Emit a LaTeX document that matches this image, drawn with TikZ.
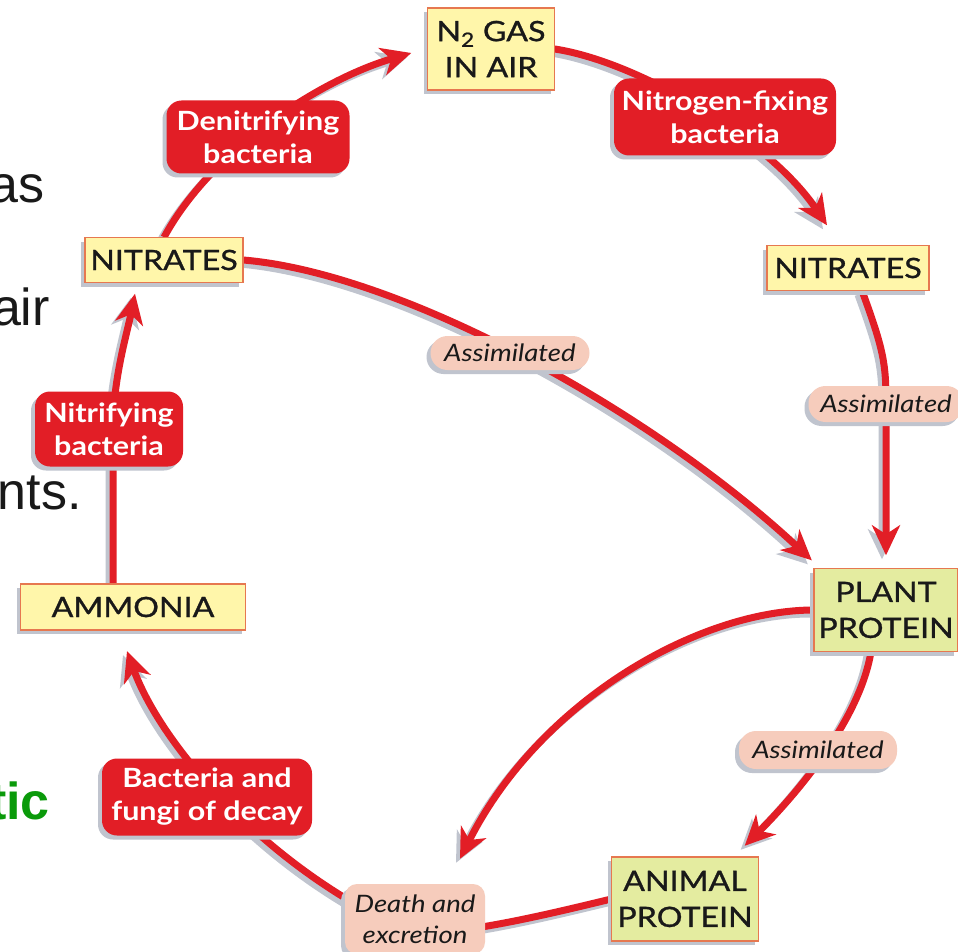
\documentclass[tikz,border=0pt]{standalone}
\usepackage{fontspec}
\setmainfont{Lato}[FakeStretch=1.15]
\newfontfamily\boxfont{Lato}[FakeStretch=1.15, FakeBold=1]
\newfontfamily\slidefont{Liberation Sans}
\usetikzlibrary{arrows.meta,shadows}
\definecolor{myred}{RGB}{226,30,38}
\definecolor{yellowfill}{RGB}{255,246,170}
\definecolor{greenfill}{RGB}{228,236,160}
\definecolor{boxedge}{RGB}{230,120,80}
\definecolor{pinkc}{RGB}{246,204,188}
\definecolor{shadowc}{RGB}{192,196,206}
\definecolor{textc}{RGB}{25,25,25}
\definecolor{slidegreen}{RGB}{10,154,10}
\tikzset{
  shad/.style={drop shadow={shadow xshift=-4pt, shadow yshift=-4pt, fill=shadowc, opacity=1}},
  flow/.style={draw=myred, line width=7pt,
    preaction={draw=shadowc, line width=7pt, transform canvas={xshift=-4pt,yshift=-4pt}}},
  tipped/.style={flow, -{Stealth[length=30pt,width=28pt,inset=9pt]}},
  ybox/.style={shad, draw=boxedge, line width=1.2pt, fill=yellowfill, text=textc,
    font=\boxfont\fontsize{28}{36}\selectfont, align=center, inner sep=0pt},
  gbox/.style={ybox, fill=greenfill},
  rbox/.style={shad, fill=myred, text=white, rounded corners=15pt,
    font=\bfseries\fontsize{26.5}{33}\selectfont, align=center, inner sep=0pt},
  pill/.style={shad, fill=pinkc, text=textc, rounded corners=17pt,
    font=\itshape\fontsize{24}{31}\selectfont, align=center, inner sep=0pt},
  slide/.style={font=\slidefont\fontsize{52}{60}\selectfont, text=textc, inner sep=0pt, anchor=base east}
}
\begin{document}
\begin{tikzpicture}[x=1pt,y=-1pt]
\fill[white] (0,0) rectangle (958,952);
\useasboundingbox (0,0) rectangle (958,952);

% slide text fragments (cut at the left edge, as in the reference)
\node[slide] (t1) at (45,203) {as};
\node[slide] (t2) at (50,325) {air};
\node[slide] (t3) at (82,509) {nts.};
\node[slide, font=\slidefont\bfseries\fontsize{52}{60}\selectfont, text=slidegreen] (t4) at (50,819) {tic};

\path
  (491,49)  coordinate (pn2)
  (258,137) coordinate (pden)
  (164,260) coordinate (pnitL)
  (725,117) coordinate (pnfix)
  (848,268) coordinate (pnitR)
  (510,353) coordinate (passM)
  (886,404) coordinate (passR)
  (109,429) coordinate (pnitrif)
  (886,610) coordinate (pplant)
  (133,607) coordinate (pammonia)
  (818,750) coordinate (passLow)
  (207,797) coordinate (pbact)
  (415,919) coordinate (pdeath)
  (685,899) coordinate (panimal);

% invisible frames for anchors
\begin{scope}[every node/.style={inner sep=0pt}]
\node[minimum width=127pt, minimum height=82pt] (n2) at (pn2) {};
\node[minimum width=158pt, minimum height=45pt] (nitL) at (pnitL) {};
\node[minimum width=162pt, minimum height=45pt] (nitR) at (pnitR) {};
\node[minimum width=144pt, minimum height=83pt] (plant) at (pplant) {};
\node[minimum width=225pt, minimum height=46pt] (ammonia) at (pammonia) {};
\node[minimum width=140pt, minimum height=70pt] (death) at (pdeath) {};
\node[minimum width=147pt, minimum height=84pt] (animal) at (panimal) {};
\node[minimum width=148pt, minimum height=75pt] (nitrif) at (pnitrif) {};
\node[minimum width=155pt, minimum height=36pt] (assR) at (passR) {};
\end{scope}

% connectors
\draw[tipped] (nitL.north) .. controls +(47,-87) and +(-92,27) .. ([xshift=-16pt,yshift=-4pt]n2.west);
\draw[tipped] (n2.east) .. controls +(85,13) and +(-57,-85) .. ([xshift=-21pt,yshift=20pt]nitR.north);
\draw[tipped] (nitL.east) .. controls +(157,13) and +(-162,-151) .. ([xshift=-2pt,yshift=8pt]plant.north west);
\draw[tipped] ([xshift=14pt]nitR.south) .. controls +(22,60) and +(0,-40) .. (plant.north |- assR.center) -- ([yshift=13pt]plant.north);
\draw[tipped] ([xshift=-15pt]plant.south) .. controls +(-11,66) and +(56,-56) .. ([xshift=-14pt,yshift=11pt]animal.north east);
\draw[tipped] (plant.west) .. controls +(-114,0) and +(80,-159) .. ([xshift=45pt,yshift=25pt]death.north);
\draw[flow] (animal.west) .. controls +(-50,12) and +(50,2) .. ([yshift=-14pt]death.center);
\draw[tipped] ([xshift=10pt,yshift=-20pt]death.north west) .. controls +(-110,-64) and +(32,88) .. ([xshift=-6pt,yshift=-21pt]ammonia.south);
\draw[tipped] ([xshift=-20pt]ammonia.north) -- ([xshift=4pt]nitrif.center) .. controls +(0,-50) and +(-8,40) .. ([xshift=-29pt,yshift=-11pt]nitL.south);

% visible boxes
\node[ybox, minimum width=127pt, minimum height=82pt] (n2v) at (pn2) {N\textsubscript{2} GAS\\IN AIR};
\node[rbox, minimum width=183pt, minimum height=73pt] (den) at (pden) {Denitrifying\\bacteria};
\node[ybox, minimum width=158pt, minimum height=45pt] (nitLv) at (pnitL) {NITRATES};
\node[rbox, minimum width=222pt, minimum height=77pt] (nfix) at (pnfix) {Nitrogen-fixing\\bacteria};
\node[ybox, minimum width=162pt, minimum height=45pt] (nitRv) at (pnitR) {NITRATES};
\node[pill, minimum width=159pt, minimum height=34pt] (assM) at (passM) {Assimilated};
\node[pill, minimum width=155pt, minimum height=36pt] (assRv) at (passR) {Assimilated};
\node[rbox, minimum width=148pt, minimum height=75pt] (nitrifv) at (pnitrif) {Nitrifying\\bacteria};
\node[gbox, minimum width=144pt, minimum height=83pt] (plantv) at (pplant) {PLANT\\PROTEIN};
\node[ybox, minimum width=225pt, minimum height=46pt] (ammoniav) at (pammonia) {AMMONIA};
\node[pill, minimum width=158pt, minimum height=38pt] (assLow) at (passLow) {Assimilated};
\node[rbox, minimum width=210pt, minimum height=77pt] (bact) at (pbact) {Bacteria and\\fungi of decay};
\node[pill, rounded corners=12pt, minimum width=140pt, minimum height=70pt] (deathv) at (pdeath) {Death and\\excretion};
\node[gbox, minimum width=147pt, minimum height=84pt] (animalv) at (panimal) {ANIMAL\\PROTEIN};
\end{tikzpicture}
\end{document}
